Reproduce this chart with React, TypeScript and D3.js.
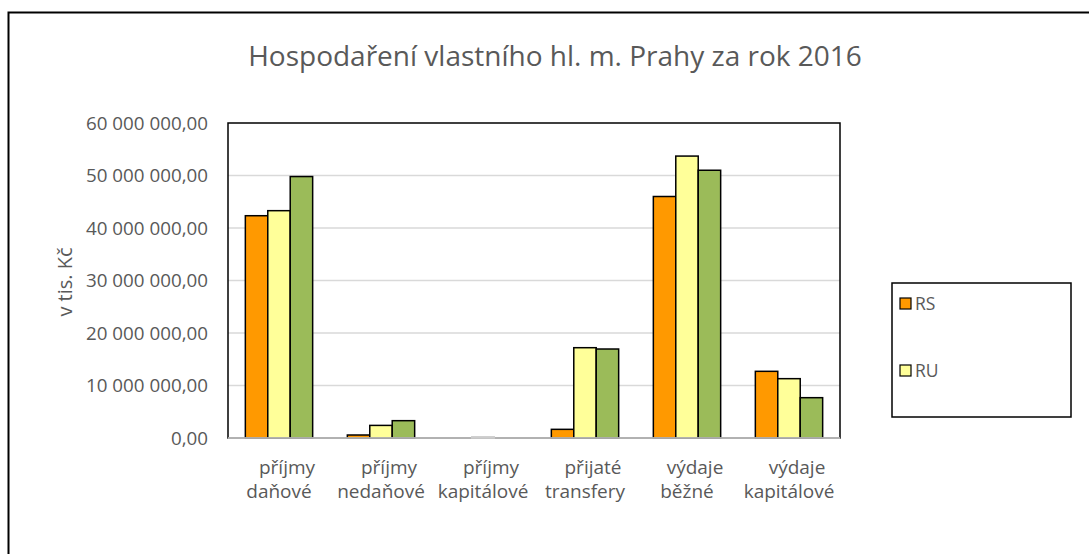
import React from "react";
import * as d3 from "d3";

const categories = [
  ["příjmy", "daňové"],
  ["příjmy", "nedaňové"],
  ["příjmy", "kapitálové"],
  ["přijaté", "transfery"],
  ["výdaje", "běžné"],
  ["výdaje", "kapitálové"],
];
const seriesNames = ["RS", "RU", "S"];
const valuesRS = [42340000, 570000, 0, 1650000, 46000000, 12700000];
const valuesRU = [43300000, 2400000, 150000, 17200000, 53700000, 11300000];
const valuesS = [49800000, 3300000, 0, 16950000, 51000000, 7680000];
const colors = ["#FF9900", "#FFFF99", "#9BBB59"];
const yTicks = [0, 10000000, 20000000, 30000000, 40000000, 50000000, 60000000];
const legendItems = ["RS", "RU"];

const FONT = "'Open Sans', 'Liberation Sans', sans-serif";
const GREY = "#595959";

function fmt(v: number) {
  const s = d3.format(",.2f")(v);
  return s.replace(/,/g, " ").replace(/\.(\d\d)$/, ",$1");
}

export default function App() {
  const left = 228, right = 840, top = 123, bottom = 438;
  const series = [valuesRS, valuesRU, valuesS];
  const x = d3.scaleBand<number>().domain(d3.range(categories.length)).range([left, right]).paddingInner(0).paddingOuter(0);
  const inner = d3.scaleBand<number>().domain([0, 1, 2]).range([0, x.bandwidth() * 0.66]);
  const y = d3.scaleLinear().domain([0, 60000000]).range([bottom, top]);
  const groupOffset = (x.bandwidth() - x.bandwidth() * 0.66) / 2;

  return (
    <svg width={1089} height={554} style={{ position: "absolute", left: 0, top: 0, background: "#fff" }} fontFamily={FONT}>
      <rect x={0} y={0} width={1089} height={554} fill="#fff" />
      <path d="M8.5,560 L8.5,12.5 L1100,12.5" fill="none" stroke="#000" strokeWidth={2} />
      <text x={555} y={66} textAnchor="middle" fontSize={28} fill={GREY}>
        Hospodaření vlastního hl. m. Prahy za rok 2016
      </text>
      {yTicks.map((t) => (
        <g key={t}>
          {t > 0 && t < 60000000 && (
            <line x1={left} x2={right} y1={y(t)} y2={y(t)} stroke="#D9D9D9" strokeWidth={1.5} />
          )}
          <text x={208} y={y(t) + 6.5} textAnchor="end" fontSize={18.8} fill={GREY}>
            {fmt(t)}
          </text>
        </g>
      ))}
      <rect x={left} y={top} width={right - left} height={bottom - top} fill="none" stroke="#000" strokeWidth={1.5} />
      {series.map((vals, si) =>
        vals.map((v, ci) => {
          if (v <= 0) return null;
          const bx = (x(ci) as number) + groupOffset + (inner(si) as number);
          const h = bottom - y(v);
          return (
            <rect
              key={`${si}-${ci}`}
              x={bx}
              y={y(v)}
              width={inner.bandwidth()}
              height={h}
              fill={colors[si]}
              stroke={v < 500000 ? "#A6A6A6" : "#000"}
              strokeWidth={1.5}
            />
          );
        })
      )}
      <line x1={left} x2={right} y1={bottom} y2={bottom} stroke="#D9D9D9" strokeWidth={1.5} />
      <text transform={`translate(72,282) rotate(-90)`} textAnchor="middle" fontSize={20} fill={GREY}>
        v tis. Kč
      </text>
      {categories.map((c, ci) => {
        const cx = (x(ci) as number) + x.bandwidth() / 2;
        return (
          <text key={ci} textAnchor="middle" fontSize={19} fill={GREY}>
            <tspan x={cx + 8} y={474}>{c[0]}</tspan>
            <tspan x={cx} y={498}>{c[1]}</tspan>
          </text>
        );
      })}
      <rect x={892} y={283} width={179} height={134} fill="#fff" stroke="#000" strokeWidth={1.5} />
      {legendItems.map((n, i) => {
        const ly = 304 + i * 67;
        return (
          <g key={n}>
            <rect x={900} y={ly - 6} width={11} height={11} fill={colors[i]} stroke="#000" strokeWidth={1.2} />
            <text x={915} y={ly + 6} fontSize={17.5} fill={GREY}>{n}</text>
          </g>
        );
      })}
    </svg>
  );
}
